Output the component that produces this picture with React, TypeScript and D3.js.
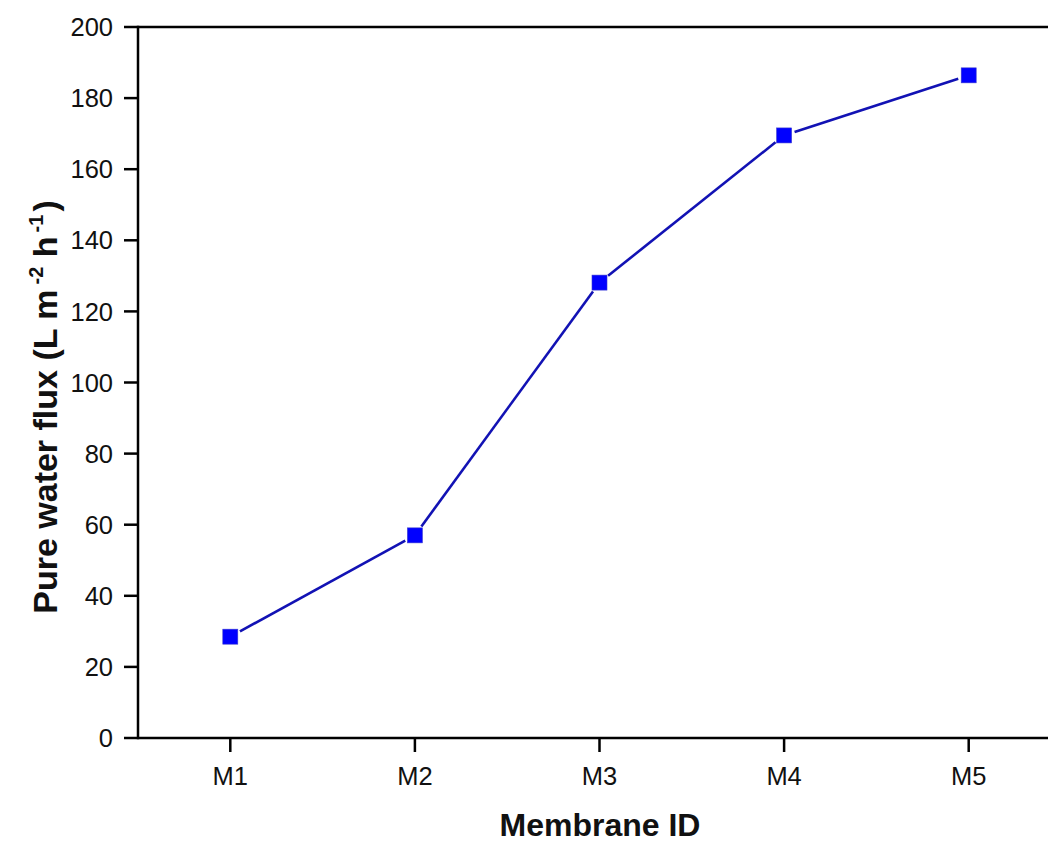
import React from "react";
import * as d3 from "d3";

const categories = ["M1", "M2", "M3", "M4", "M5"];
const fluxValues = [28.5, 57.0, 128.1, 169.5, 186.4];
const yTicks = [0, 20, 40, 60, 80, 100, 120, 140, 160, 180, 200];

export default function App() {
  const W = 1048, H = 843;
  const left = 138, top = 27, bottom = 738;
  const x = d3.scaleLinear().domain([0.5, 5.5]).range([left, left + 923]);
  const y = d3.scaleLinear().domain([0, 200]).range([bottom, top]);
  const pts = fluxValues.map((v, i) => [x(i + 1), y(v)] as [number, number]);
  const gap = 11;
  const segs = pts.slice(1).map((p, i) => {
    const a = pts[i];
    const dx = p[0] - a[0], dy = p[1] - a[1];
    const len = Math.hypot(dx, dy);
    const ux = dx / len, uy = dy / len;
    return [a[0] + ux * gap, a[1] + uy * gap, p[0] - ux * gap, p[1] - uy * gap];
  });
  const font = "'Liberation Sans', Arial, sans-serif";
  return (
    <svg width={W} height={H} style={{ position: "absolute", left: 0, top: 0 }} fontFamily={font}>
      <rect width={W} height={H} fill="#fff" />
      <line x1={left} x2={W} y1={top} y2={top} stroke="#000" strokeWidth={2.5} />
      <line x1={left} x2={W} y1={bottom} y2={bottom} stroke="#000" strokeWidth={2.5} />
      <line x1={left} x2={left} y1={top - 1.2} y2={bottom + 1.2} stroke="#000" strokeWidth={2.5} />
      {yTicks.map((t) => (
        <g key={t}>
          <line x1={left - 14} x2={left} y1={y(t)} y2={y(t)} stroke="#000" strokeWidth={2.5} />
          <text x={left - 25} y={y(t)} dy="0.36em" textAnchor="end" fontSize={25.5} fill="#111">{t}</text>
        </g>
      ))}
      {categories.map((c, i) => (
        <g key={c}>
          <line x1={x(i + 1)} x2={x(i + 1)} y1={bottom} y2={bottom + 14} stroke="#000" strokeWidth={2.5} />
          <text x={x(i + 1)} y={785} textAnchor="middle" fontSize={25.5} fill="#111">{c}</text>
        </g>
      ))}
      {segs.map((s, i) => (
        <line key={i} x1={s[0]} y1={s[1]} x2={s[2]} y2={s[3]} stroke="#1212b4" strokeWidth={2.6} />
      ))}
      {pts.map((p, i) => (
        <rect key={i} x={p[0] - 7.5} y={p[1] - 7.5} width={15} height={15} fill="#0000ff" stroke="#3a3ad0" strokeWidth={0.6} />
      ))}
      <text x={600} y={836} textAnchor="middle" fontSize={32} fontWeight="bold" fill="#111">Membrane ID</text>
      <text transform={`translate(57, 407) rotate(-90)`} textAnchor="middle" fontSize={34} fontWeight="bold" fill="#111">
        Pure water flux (L m<tspan dx={5} dy={-14} fontSize={20}>-2</tspan><tspan dy={14}> h</tspan><tspan dx={4} dy={-14} fontSize={20}>-1</tspan><tspan dx={3} dy={14}>)</tspan>
      </text>
    </svg>
  );
}
